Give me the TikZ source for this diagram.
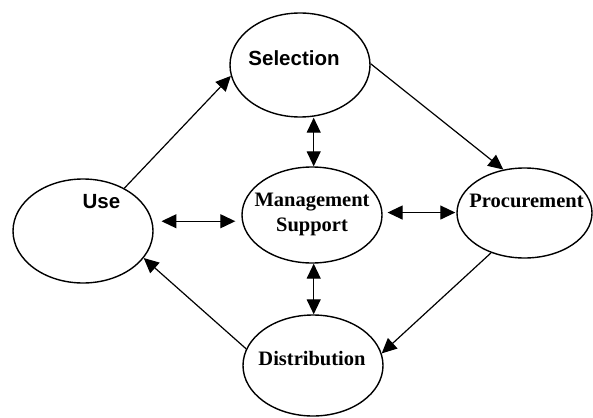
\documentclass[tikz,border=0pt]{standalone}
\usepackage{fontspec}
\setmainfont{Liberation Serif}
\setsansfont{Liberation Sans}
\usetikzlibrary{arrows.meta,shapes.geometric}
\tikzset{
  stage/.style={ellipse,draw,line width=1.4pt,inner sep=0pt,minimum width=140pt,minimum height=104pt},
  arial text/.style={font=\sffamily\bfseries\fontsize{20.5}{25}\selectfont},
  times text/.style={font=\rmfamily\bfseries\fontsize{20.5}{25}\selectfont,align=center},
  flow/.style={->,>={Triangle[length=15pt,width=14pt]},line width=1.2pt},
  both flow/.style={flow,<->},
}
\begin{document}
\begin{tikzpicture}[x=1pt,y=-1pt]
  \useasboundingbox (0,0) rectangle (593,417);
  \node (sel) [stage,label={[arial text,xshift=-6pt,yshift=6.5pt]center:Selection}] at (300,65) {};
  \node (use) [stage,label={[arial text,xshift=18.5pt,yshift=29pt]center:Use}] at (83,231) {};
  \node (mgmt) [stage,minimum height=96pt,label={[times text,yshift=1pt]center:Management\\Support}] at (312,215) {};
  \node (proc) [stage,minimum width=135pt,minimum height=90pt,label={[times text,xshift=2pt,yshift=12pt]center:Procurement}] at (524.5,213) {};
  \node (dist) [stage,minimum height=101pt,label={[times text,xshift=-1pt,yshift=6.5pt]center:Distribution}] at (313,365.5) {};
  \path[flow]
    (use.46) edge (sel.189)
    (sel.1) edge (proc.116)
    (proc.230) edge (dist.10)
    (dist.166) edge (use.336);
  \draw[both flow,shorten <=9pt,shorten >=6pt] (use.8) -- (use.8 -| mgmt.west);
  \draw[both flow,shorten <=5pt,shorten >=1pt] (mgmt.2) -- (mgmt.2 -| proc.west);
  \draw[both flow] (mgmt.88) -- (mgmt.88 |- sel.south);
  \draw[both flow] (mgmt.272) -- (mgmt.272 |- dist.north);
\end{tikzpicture}
\end{document}
